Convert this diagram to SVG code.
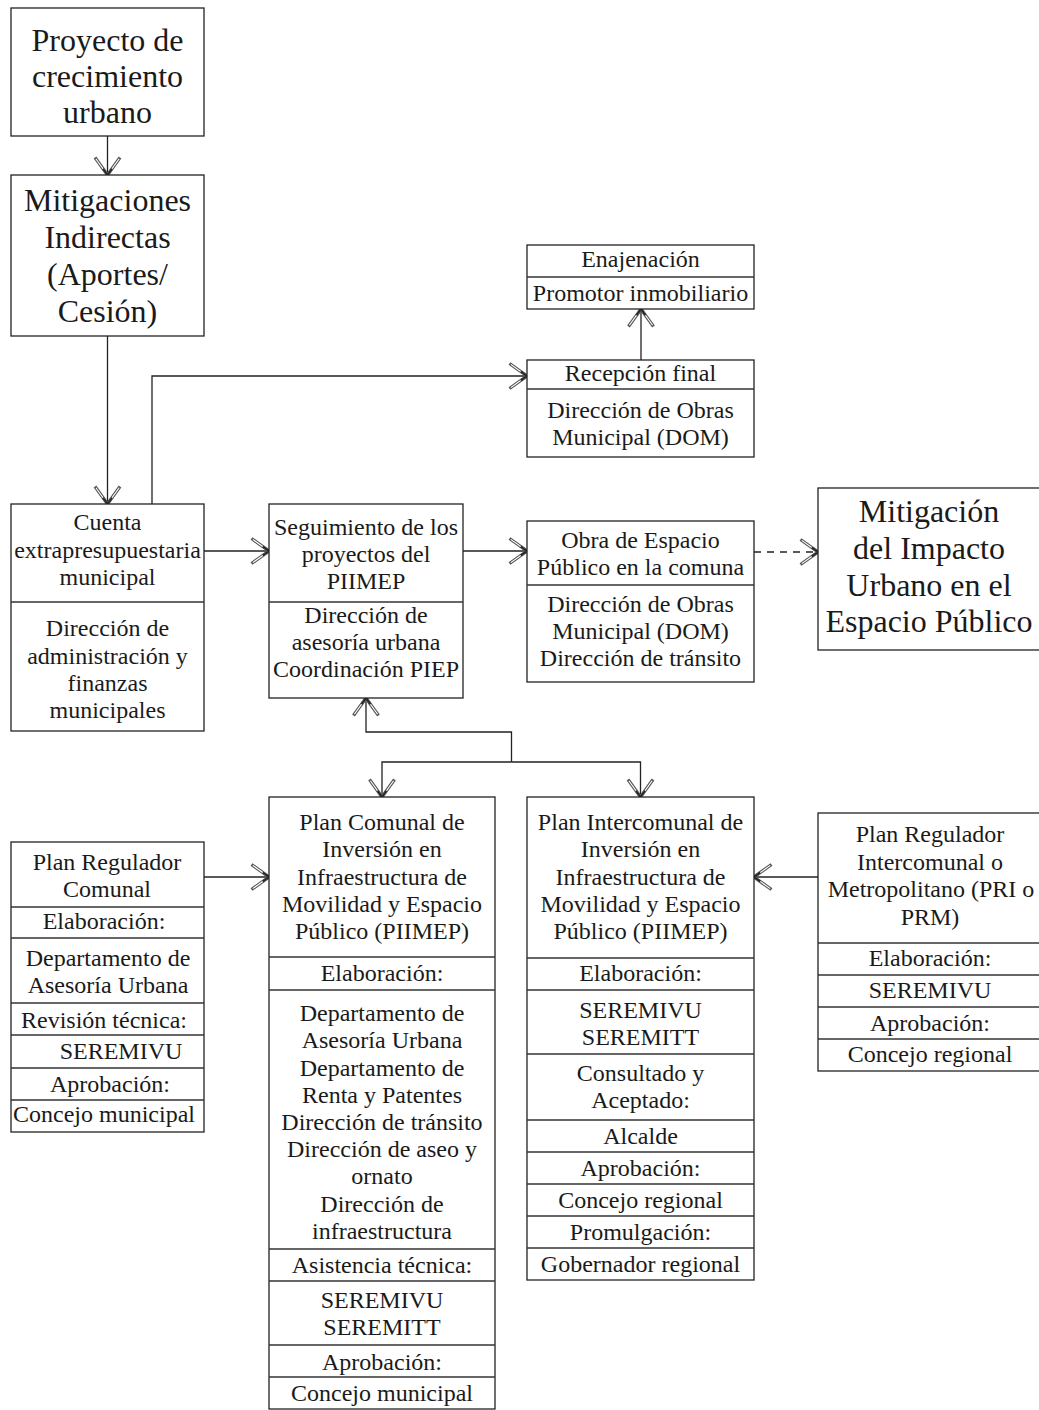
<svg xmlns="http://www.w3.org/2000/svg" width="1039" height="1410" viewBox="0 0 1039 1410">
  <style>
    .box { fill: #ffffff; stroke: #222222; stroke-width: 1.3; }
    .sep { stroke: #333333; stroke-width: 1.3; fill: none; }
    .t { font-family: "Liberation Serif", "Times New Roman", serif; font-size: 24px; fill: #1a1a1a; text-anchor: middle; }
    .big { font-size: 32px; }
    .wire { fill: none; stroke: #222222; stroke-width: 1.3; }
    .dash { stroke-dasharray: 7 6; }
  </style>
  <defs>
    <marker id="open" markerUnits="userSpaceOnUse" markerWidth="30" markerHeight="30" refX="0" refY="0" viewBox="-16 -12 18 24" orient="auto" overflow="visible">
      <path d="M-14,-10 L0,0 L-14,10" fill="none" stroke="#555555" stroke-width="2.6" stroke-linejoin="miter"/>
      <path d="M-13,-9.3 L0,0 L-13,9.3" fill="none" stroke="#ffffff" stroke-width="0.9"/>
      <path d="M-5,-3.6 L0,0 L-5,3.6" fill="none" stroke="#222222" stroke-width="1.3"/>
    </marker>
  </defs>
  <rect width="1039" height="1410" fill="#ffffff"/>

  <!-- connectors -->
  <g id="connectors">
    <line class="wire" x1="107.5" y1="136" x2="107.5" y2="175" marker-end="url(#open)"/>
    <line class="wire" x1="107.5" y1="336" x2="107.5" y2="504" marker-end="url(#open)"/>
    <polyline class="wire" points="152,504 152,376 527,376" marker-end="url(#open)"/>
    <line class="wire" x1="641" y1="360" x2="641" y2="309" marker-end="url(#open)"/>
    <line class="wire" x1="204" y1="551" x2="269" y2="551" marker-end="url(#open)"/>
    <line class="wire" x1="463" y1="551" x2="527" y2="551" marker-end="url(#open)"/>
    <line class="wire dash" x1="754" y1="552" x2="818" y2="552" marker-end="url(#open)"/>
    <polyline class="wire" points="511.5,762 511.5,732 366,732 366,698" marker-end="url(#open)"/>
    <polyline class="wire" points="511.5,762 382,762 382,797" marker-end="url(#open)"/>
    <polyline class="wire" points="511.5,762 640.5,762 640.5,797" marker-end="url(#open)"/>
    <line class="wire" x1="204" y1="877" x2="269" y2="877" marker-end="url(#open)"/>
    <line class="wire" x1="818" y1="877" x2="754" y2="877" marker-end="url(#open)"/>
  </g>

  <!-- Proyecto de crecimiento urbano -->
  <g id="proyecto">
    <rect class="box" x="11" y="8" width="193" height="128"/>
    <text class="t big" x="107.5" y="51">Proyecto de</text>
    <text class="t big" x="107.5" y="87">crecimiento</text>
    <text class="t big" x="107.5" y="123">urbano</text>
  </g>

  <!-- Mitigaciones indirectas -->
  <g id="mitigaciones">
    <rect class="box" x="11" y="175" width="193" height="161"/>
    <text class="t big" x="107.5" y="211">Mitigaciones</text>
    <text class="t big" x="107.5" y="248">Indirectas</text>
    <text class="t big" x="107.5" y="285">(Aportes/</text>
    <text class="t big" x="107.5" y="322">Cesión)</text>
  </g>

  <!-- Enajenación -->
  <g id="enajenacion">
    <rect class="box" x="527" y="245" width="227" height="64"/>
    <line class="sep" x1="527" y1="277" x2="754" y2="277"/>
    <text class="t" x="640.5" y="267">Enajenación</text>
    <text class="t" x="640.5" y="301">Promotor inmobiliario</text>
  </g>

  <!-- Recepción final -->
  <g id="recepcion">
    <rect class="box" x="527" y="360" width="227" height="97"/>
    <line class="sep" x1="527" y1="389" x2="754" y2="389"/>
    <text class="t" x="640.5" y="381">Recepción final</text>
    <text class="t" x="640.5" y="418">Dirección de Obras</text>
    <text class="t" x="640.5" y="445">Municipal (DOM)</text>
  </g>

  <!-- Cuenta extrapresupuestaria -->
  <g id="cuenta">
    <rect class="box" x="11" y="504" width="193" height="227"/>
    <line class="sep" x1="11" y1="602" x2="204" y2="602"/>
    <text class="t" x="107.5" y="530">Cuenta</text>
    <text class="t" x="107.5" y="558">extrapresupuestaria</text>
    <text class="t" x="107.5" y="585">municipal</text>
    <text class="t" x="107.5" y="636">Dirección de</text>
    <text class="t" x="107.5" y="664">administración y</text>
    <text class="t" x="107.5" y="691">finanzas</text>
    <text class="t" x="107.5" y="718">municipales</text>
  </g>

  <!-- Seguimiento PIIMEP -->
  <g id="seguimiento">
    <rect class="box" x="269" y="504" width="194" height="194"/>
    <line class="sep" x1="269" y1="602" x2="463" y2="602"/>
    <text class="t" x="366" y="535">Seguimiento de los</text>
    <text class="t" x="366" y="562">proyectos del</text>
    <text class="t" x="366" y="589">PIIMEP</text>
    <text class="t" x="366" y="623">Dirección de</text>
    <text class="t" x="366" y="650">asesoría urbana</text>
    <text class="t" x="366" y="677">Coordinación PIEP</text>
  </g>

  <!-- Obra de espacio público -->
  <g id="obra">
    <rect class="box" x="527" y="521" width="227" height="161"/>
    <line class="sep" x1="527" y1="585" x2="754" y2="585"/>
    <text class="t" x="640.5" y="548">Obra de Espacio</text>
    <text class="t" x="640.5" y="575">Público en la comuna</text>
    <text class="t" x="640.5" y="612">Dirección de Obras</text>
    <text class="t" x="640.5" y="639">Municipal (DOM)</text>
    <text class="t" x="640.5" y="666">Dirección de tránsito</text>
  </g>

  <!-- Mitigación del impacto urbano -->
  <g id="mitigacion-impacto">
    <rect class="box" x="818" y="488" width="222" height="162"/>
    <text class="t big" x="929" y="522">Mitigación</text>
    <text class="t big" x="929" y="559">del Impacto</text>
    <text class="t big" x="929" y="596">Urbano en el</text>
    <text class="t big" x="929" y="632">Espacio Público</text>
  </g>

  <!-- Plan Regulador Comunal -->
  <g id="prc">
    <rect class="box" x="11" y="842" width="193" height="290"/>
    <line class="sep" x1="11" y1="907" x2="204" y2="907"/>
    <line class="sep" x1="11" y1="938" x2="204" y2="938"/>
    <line class="sep" x1="11" y1="1003" x2="204" y2="1003"/>
    <line class="sep" x1="11" y1="1035" x2="204" y2="1035"/>
    <line class="sep" x1="11" y1="1068" x2="204" y2="1068"/>
    <line class="sep" x1="11" y1="1100" x2="204" y2="1100"/>
    <text class="t" x="107" y="870">Plan Regulador</text>
    <text class="t" x="107" y="897">Comunal</text>
    <text class="t" x="104" y="929">Elaboración:</text>
    <text class="t" x="108" y="966">Departamento de</text>
    <text class="t" x="108" y="993">Asesoría Urbana</text>
    <text class="t" x="104" y="1028">Revisión técnica:</text>
    <text class="t" x="121" y="1059">SEREMIVU</text>
    <text class="t" x="110" y="1092">Aprobación:</text>
    <text class="t" x="104" y="1122">Concejo municipal</text>
  </g>

  <!-- Plan Comunal de Inversión (PIIMEP) -->
  <g id="piimep-comunal">
    <rect class="box" x="269" y="797" width="226" height="612"/>
    <line class="sep" x1="269" y1="957" x2="495" y2="957"/>
    <line class="sep" x1="269" y1="990" x2="495" y2="990"/>
    <line class="sep" x1="269" y1="1249" x2="495" y2="1249"/>
    <line class="sep" x1="269" y1="1281" x2="495" y2="1281"/>
    <line class="sep" x1="269" y1="1345" x2="495" y2="1345"/>
    <line class="sep" x1="269" y1="1377" x2="495" y2="1377"/>
    <text class="t" x="382" y="830">Plan Comunal de</text>
    <text class="t" x="382" y="857">Inversión en</text>
    <text class="t" x="382" y="885">Infraestructura de</text>
    <text class="t" x="382" y="912">Movilidad y Espacio</text>
    <text class="t" x="382" y="939">Público (PIIMEP)</text>
    <text class="t" x="382" y="981">Elaboración:</text>
    <text class="t" x="382" y="1021">Departamento de</text>
    <text class="t" x="382" y="1048">Asesoría Urbana</text>
    <text class="t" x="382" y="1076">Departamento de</text>
    <text class="t" x="382" y="1103">Renta y Patentes</text>
    <text class="t" x="382" y="1130">Dirección de tránsito</text>
    <text class="t" x="382" y="1157">Dirección de aseo y</text>
    <text class="t" x="382" y="1184">ornato</text>
    <text class="t" x="382" y="1212">Dirección de</text>
    <text class="t" x="382" y="1239">infraestructura</text>
    <text class="t" x="382" y="1273">Asistencia técnica:</text>
    <text class="t" x="382" y="1308">SEREMIVU</text>
    <text class="t" x="382" y="1335">SEREMITT</text>
    <text class="t" x="382" y="1370">Aprobación:</text>
    <text class="t" x="382" y="1401">Concejo municipal</text>
  </g>

  <!-- Plan Intercomunal de Inversión (PIIMEP) -->
  <g id="piimep-intercomunal">
    <rect class="box" x="527" y="797" width="227" height="483"/>
    <line class="sep" x1="527" y1="958" x2="754" y2="958"/>
    <line class="sep" x1="527" y1="990" x2="754" y2="990"/>
    <line class="sep" x1="527" y1="1054" x2="754" y2="1054"/>
    <line class="sep" x1="527" y1="1120" x2="754" y2="1120"/>
    <line class="sep" x1="527" y1="1152" x2="754" y2="1152"/>
    <line class="sep" x1="527" y1="1184" x2="754" y2="1184"/>
    <line class="sep" x1="527" y1="1216" x2="754" y2="1216"/>
    <line class="sep" x1="527" y1="1248" x2="754" y2="1248"/>
    <text class="t" x="640.5" y="830">Plan Intercomunal de</text>
    <text class="t" x="640.5" y="857">Inversión en</text>
    <text class="t" x="640.5" y="885">Infraestructura de</text>
    <text class="t" x="640.5" y="912">Movilidad y Espacio</text>
    <text class="t" x="640.5" y="939">Público (PIIMEP)</text>
    <text class="t" x="640.5" y="981">Elaboración:</text>
    <text class="t" x="640.5" y="1018">SEREMIVU</text>
    <text class="t" x="640.5" y="1045">SEREMITT</text>
    <text class="t" x="640.5" y="1081">Consultado y</text>
    <text class="t" x="640.5" y="1108">Aceptado:</text>
    <text class="t" x="640.5" y="1144">Alcalde</text>
    <text class="t" x="640.5" y="1176">Aprobación:</text>
    <text class="t" x="640.5" y="1208">Concejo regional</text>
    <text class="t" x="640.5" y="1240">Promulgación:</text>
    <text class="t" x="640.5" y="1272">Gobernador regional</text>
  </g>

  <!-- Plan Regulador Intercomunal / Metropolitano -->
  <g id="pri-prm">
    <rect class="box" x="818" y="813" width="222" height="258"/>
    <line class="sep" x1="818" y1="943" x2="1040" y2="943"/>
    <line class="sep" x1="818" y1="975" x2="1040" y2="975"/>
    <line class="sep" x1="818" y1="1007" x2="1040" y2="1007"/>
    <line class="sep" x1="818" y1="1039" x2="1040" y2="1039"/>
    <text class="t" x="930" y="842">Plan Regulador</text>
    <text class="t" x="930" y="870">Intercomunal o</text>
    <text class="t" x="931" y="897">Metropolitano (PRI o</text>
    <text class="t" x="930" y="925">PRM)</text>
    <text class="t" x="930" y="966">Elaboración:</text>
    <text class="t" x="930" y="998">SEREMIVU</text>
    <text class="t" x="930" y="1031">Aprobación:</text>
    <text class="t" x="930" y="1062">Concejo regional</text>
  </g>
</svg>
